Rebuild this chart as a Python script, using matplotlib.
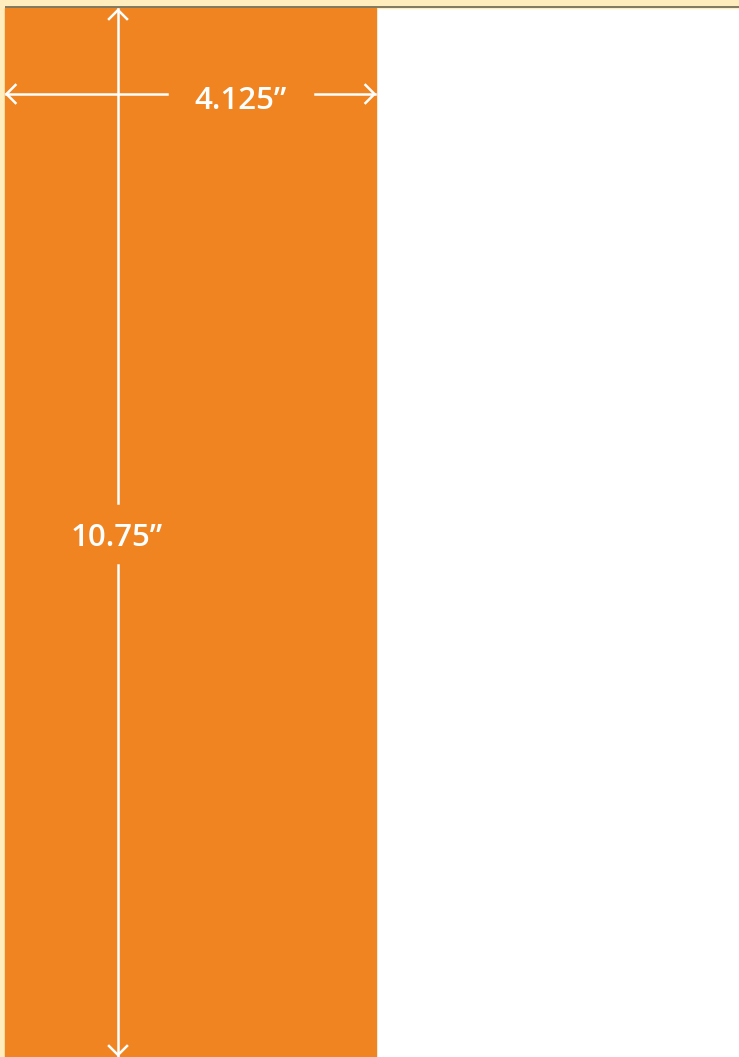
import matplotlib
matplotlib.use("Agg")
import matplotlib.pyplot as plt
from matplotlib.patches import Rectangle

# Data: panel dimensions (inches) and their labels
dimension_names = ["width", "height"]
dimension_values = [4.125, 10.75]
dimension_labels = ["4.125\u201d", "10.75\u201d"]

W, H = 739, 1057
fig = plt.figure(figsize=(W / 100, H / 100), dpi=100)
ax = fig.add_axes([0, 0, 1, 1])
ax.set_xlim(0, W)
ax.set_ylim(H, 0)
ax.axis("off")

orange = "#F08421"
cream = "#FFEDBD"
white = "#FFFFFF"

# background
ax.add_patch(Rectangle((0, 0), W, H, color=white, zorder=0))
ax.add_patch(Rectangle((0, 0), W, 7.5, color=cream, zorder=1))
ax.add_patch(Rectangle((0, 0), 5, H, color=cream, zorder=1))
ax.plot([5, W], [7.3, 7.3], color="#6B6650", lw=1.2, zorder=2, solid_capstyle="butt")

# orange panel scaled from dimensions
px_per_in = (H - 8) / dimension_values[1]
x0, y0 = 5, 8
pw = dimension_values[0] * (371 / dimension_values[0])
ph = dimension_values[1] * px_per_in
ax.add_patch(Rectangle((x0, y0), pw, ph, color=orange, zorder=1))

lw = 1.8
head = 9

def chevron(x, y, dx, dy):
    if dx != 0:
        ax.plot([x - dx * head, x, x - dx * head], [y - head, y, y + head],
                color="white", lw=lw, zorder=3, solid_joinstyle="miter")
    else:
        ax.plot([x - head, x, x + head], [y - dy * head, y, y - dy * head],
                color="white", lw=lw, zorder=3, solid_joinstyle="miter")

# horizontal dimension (width)
hy = 94
ax.plot([x0 + 1, 167], [hy, hy], color="white", lw=lw, zorder=3)
ax.plot([315, x0 + pw - 1], [hy, hy], color="white", lw=lw, zorder=3)
chevron(x0 + 1.5, hy, -1, 0)
chevron(x0 + pw - 1.5, hy, 1, 0)
ax.text(240.5, 101, dimension_labels[0], color="white", fontsize=22.5,
        fontfamily="Open Sans", fontweight="semibold", ha="center", va="center", zorder=4)

# vertical dimension (height)
vx = 118
ax.plot([vx, vx], [y0 + 1, 503], color="white", lw=lw, zorder=3)
ax.plot([vx, vx], [565, H], color="white", lw=lw, zorder=3)
chevron(vx, y0 + 2, 0, -1)
chevron(vx, H - 2, 0, 1)
ax.text(116.5, 537.5, dimension_labels[1], color="white", fontsize=22.5,
        fontfamily="Open Sans", fontweight="semibold", ha="center", va="center", zorder=4)

fig.savefig("out.png", dpi=100)
